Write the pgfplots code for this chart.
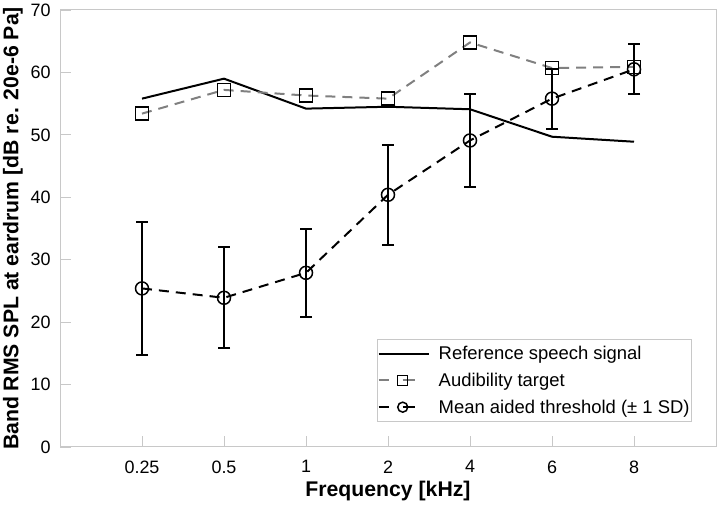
\documentclass[border=0pt]{standalone}
\usepackage{pgfplots}
\pgfplotsset{compat=1.18}
\usepackage{fontspec}
\setmainfont{Liberation Sans}
\definecolor{axgray}{RGB}{200,200,200}
\definecolor{tgray}{RGB}{128,128,128}
\begin{document}
\begin{tikzpicture}
\begin{axis}[
 scale only axis, width=656bp, height=437bp,
 xmin=-1, xmax=7, ymin=0, ymax=70,
 xtick={0,...,6}, xticklabels={0.25,0.5,1,2,4,6,8},
 ytick={0,10,...,70},
 axis line style={axgray, line width=1bp},
 tick style={axgray, line width=0.8bp},
 major tick length=11bp,
 tick align=inside,
 xtick pos=bottom, ytick pos=left,
 /pgf/number format/assume math mode=true,
 tick label style={font=\fontsize{18}{20}\selectfont},
 yticklabel style={xshift=-6bp},
 xticklabel style={yshift=-10bp},
 xlabel={Frequency [kHz]},
 ylabel={Band RMS SPL at eardrum [dB re. 20e-6 Pa]},
 every axis x label/.style={at={(rel axis cs:0.5,0)}, yshift=-44bp, anchor=center},
 every axis y label/.style={at={(rel axis cs:0,0.5)}, xshift=-47bp, rotate=90, anchor=center},
 label style={font=\fontsize{21.3}{24}\selectfont\bfseries},
 legend style={draw=axgray, line width=0.8bp, font=\fontsize{18.5}{20}\selectfont,
   at={(rel axis cs:0.9634,0.0572)}, anchor=south east, row sep=8bp,
   column sep=7bp, inner xsep=0bp, inner ysep=5bp},
 legend cell align=left,
]
\addplot[black, line width=2bp, mark=none,
  legend image code/.code={\draw (0bp,0bp) -- (50bp,0bp);}] coordinates {
 (0,55.8) (1,59.0) (2,54.2) (3,54.5) (4,54.1) (5,49.7) (6,48.9)};
\addlegendentry{Reference speech signal}
\addplot[tgray, line width=2bp, dash pattern=on 10bp off 7bp, mark=square,
  mark size=6.5bp, mark options={black, solid, line width=1.5bp, fill=none},
  legend image code/.code={\draw[solid] (0bp,0bp) -- (10bp,0bp);
     \draw[solid] (24bp,0bp) -- (36bp,0bp);
     \draw[mark size=5bp] plot coordinates {(24bp,0bp)};}] coordinates {
 (0,53.4) (1,57.2) (2,56.3) (3,55.8) (4,64.8) (5,60.7) (6,60.9)};
\addlegendentry{Audibility target}
\addplot[black, line width=2bp, dash pattern=on 10bp off 7bp, mark=o,
  mark size=6.5bp, mark options={black, solid, line width=1.5bp, fill=none},
  legend image code/.code={\draw[solid] (0bp,0bp) -- (10bp,0bp);
     \draw[solid] (24bp,0bp) -- (36bp,0bp);
     \draw[mark size=5bp] plot coordinates {(24bp,0bp)};},
  error bars/.cd, y dir=both, y explicit,
  error bar style={solid, line width=2bp},
  error mark options={rotate=90, mark size=6bp, line width=2bp, solid}]
 table[x=x, y=y, y error=e] {
 x y e
 0 25.4 10.7
 1 23.9 8.1
 2 27.9 7.0
 3 40.4 8.0
 4 49.1 7.5
 5 55.8 4.8
 6 60.5 4.0
};
\addlegendentry{Mean aided threshold (± 1 SD)\hspace{4bp}}
\coordinate (sw) at (rel axis cs:0,0);
\coordinate (ne) at (rel axis cs:1,1);
\end{axis}
\pgfresetboundingbox
\path ([shift={(-60bp,-59bp)}]sw) rectangle ([shift={(4bp,10bp)}]ne);
\end{tikzpicture}
\end{document}
